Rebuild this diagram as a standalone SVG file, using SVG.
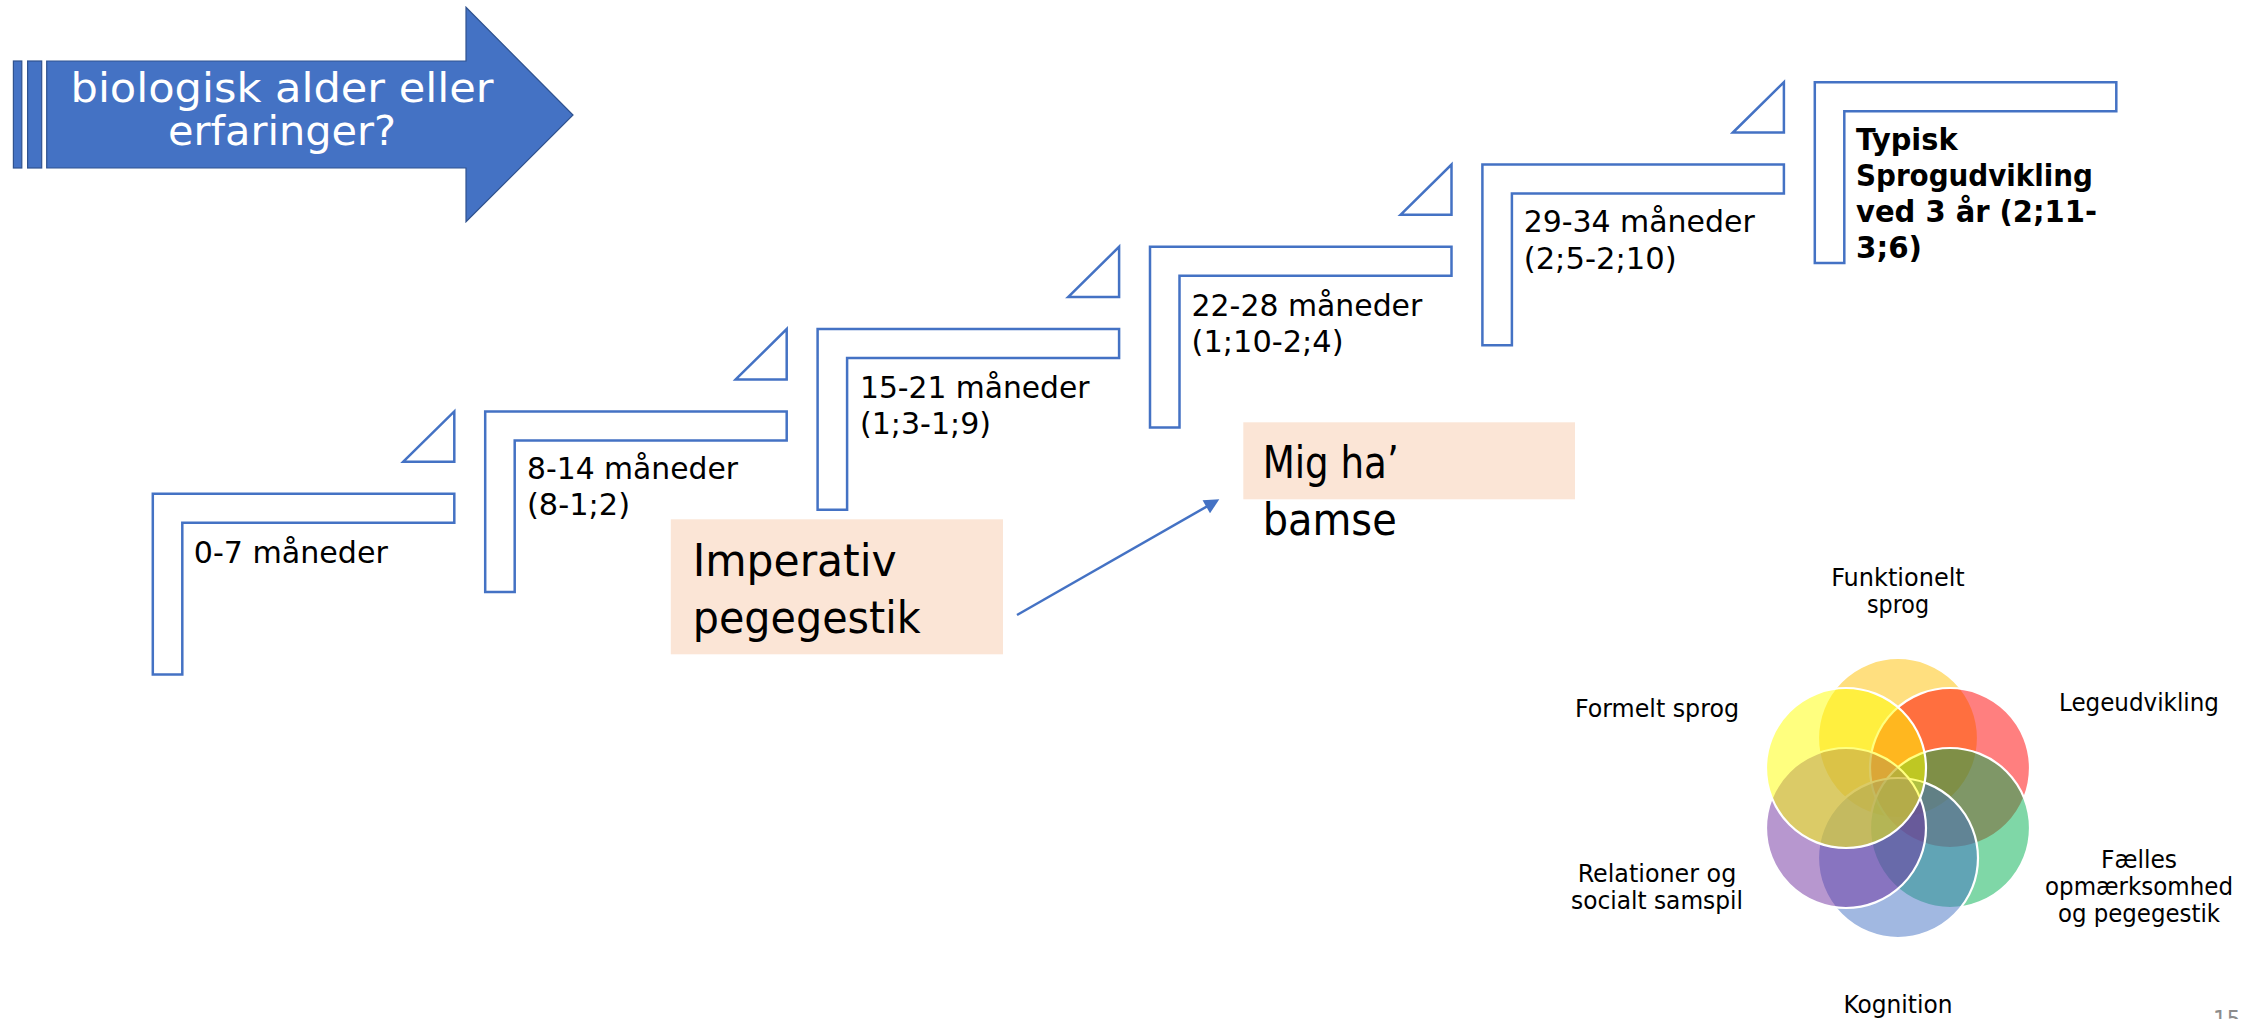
<svg xmlns="http://www.w3.org/2000/svg" width="2251" height="1019" viewBox="0 0 2251 1019">
<style>
.t{font-family:"DejaVu Sans Condensed","DejaVu Sans",sans-serif;font-stretch:condensed;fill:#000;}
.s{font-size:31px;}
.b{font-weight:bold;}
.big{font-size:45px;}
.v{font-size:24px;text-anchor:middle;}
.step{fill:#fff;stroke:#4472C4;stroke-width:2.5;}
.box{fill:#FBE5D6;}
.vc{stroke:#fff;stroke-width:2.2;fill-opacity:0.5;}
.conn{stroke:#4472C4;stroke-width:2.5;fill:none;}
</style>
<defs>
<path id="stepL" d="M0,0 H301.5 V29 H29.5 V180.7 H0 Z"/>
<path id="tri" d="M250.5,-32 L301.5,-82.3 L301.5,-32 Z"/>
<marker id="ah" viewBox="0 0 10 10" refX="7" refY="5" markerWidth="7" markerHeight="6" orient="auto" markerUnits="strokeWidth">
<path d="M0,0 L10,5 L0,10 Z" fill="#4472C4"/>
</marker>
</defs>
<rect width="2251" height="1019" fill="#fff"/>

<g id="title-arrow">
<rect x="13.4" y="61" width="8.4" height="107" fill="#4472C4" stroke="#2F528F" stroke-width="1.2"/>
<rect x="27.6" y="61" width="14.1" height="107" fill="#4472C4" stroke="#2F528F" stroke-width="1.2"/>
<polygon points="46.7,61 466,61 466,7.3 573,115 466,221.7 466,168 46.7,168" fill="#4472C4" stroke="#2F528F" stroke-width="1.2"/>
<text class="t" x="282" y="101.7" font-size="40" text-anchor="middle" style="fill:#fff" textLength="423" lengthAdjust="spacingAndGlyphs">biologisk alder eller</text>
<text class="t" x="282" y="145" font-size="40" text-anchor="middle" style="fill:#fff" textLength="228" lengthAdjust="spacingAndGlyphs">erfaringer?</text>
</g>

<g id="step1">
<use href="#stepL" class="step" transform="translate(152.8,493.7)"/>
<text class="t s" x="193.8" y="562.7" textLength="194" lengthAdjust="spacingAndGlyphs">0-7 måneder</text>
</g>
<g id="tri1"><use href="#tri" class="step" transform="translate(152.8,493.7)"/></g>

<g id="step2">
<use href="#stepL" class="step" transform="translate(485.2,411.4)"/>
<text class="t s" x="527" y="479" textLength="211" lengthAdjust="spacingAndGlyphs">8-14 måneder</text>
<text class="t s" x="527" y="515" textLength="103" lengthAdjust="spacingAndGlyphs">(8-1;2)</text>
</g>
<g id="tri2"><use href="#tri" class="step" transform="translate(485.2,411.4)"/></g>

<g id="step3">
<use href="#stepL" class="step" transform="translate(817.6,329.1)"/>
<text class="t s" x="860" y="397.7" textLength="229.5" lengthAdjust="spacingAndGlyphs">15-21 måneder</text>
<text class="t s" x="860" y="433.5" textLength="131" lengthAdjust="spacingAndGlyphs">(1;3-1;9)</text>
</g>
<g id="tri3"><use href="#tri" class="step" transform="translate(817.6,329.1)"/></g>

<g id="step4">
<use href="#stepL" class="step" transform="translate(1150,246.8)"/>
<text class="t s" x="1191.6" y="315.7" textLength="230.7" lengthAdjust="spacingAndGlyphs">22-28 måneder</text>
<text class="t s" x="1191.6" y="351.7" textLength="152" lengthAdjust="spacingAndGlyphs">(1;10-2;4)</text>
</g>
<g id="tri4"><use href="#tri" class="step" transform="translate(1150,246.8)"/></g>

<g id="step5">
<use href="#stepL" class="step" transform="translate(1482.4,164.5)"/>
<text class="t s" x="1523.7" y="232.3" textLength="231" lengthAdjust="spacingAndGlyphs">29-34 måneder</text>
<text class="t s" x="1523.7" y="268.5" textLength="153" lengthAdjust="spacingAndGlyphs">(2;5-2;10)</text>
</g>
<g id="tri5"><use href="#tri" class="step" transform="translate(1482.4,164.5)"/></g>

<g id="step6">
<use href="#stepL" class="step" transform="translate(1814.8,82.2)"/>
<text class="t s b" x="1856" y="150" textLength="101.6" lengthAdjust="spacingAndGlyphs">Typisk</text>
<text class="t s b" x="1856" y="186" textLength="237" lengthAdjust="spacingAndGlyphs">Sprogudvikling</text>
<text class="t s b" x="1856" y="222.3" textLength="241" lengthAdjust="spacingAndGlyphs">ved 3 år (2;11-</text>
<text class="t s b" x="1856" y="258.3" textLength="66" lengthAdjust="spacingAndGlyphs">3;6)</text>
</g>

<g id="imperativ">
<rect class="box" x="670.8" y="519.3" width="332.2" height="135"/>
<text class="t big" x="692.7" y="576" textLength="204" lengthAdjust="spacingAndGlyphs">Imperativ</text>
<text class="t big" x="692.7" y="633.3" textLength="228" lengthAdjust="spacingAndGlyphs">pegegestik</text>
</g>

<g id="mig-ha">
<rect class="box" x="1243.3" y="422.3" width="331.7" height="77"/>
<text class="t big" x="1262.7" y="478.3" textLength="136" lengthAdjust="spacingAndGlyphs">Mig ha’</text>
<text class="t big" x="1262.7" y="535" textLength="134" lengthAdjust="spacingAndGlyphs">bamse</text>
</g>

<g id="connectors">
<line class="conn" x1="1017" y1="615" x2="1215.4" y2="501.6" marker-end="url(#ah)"/>
</g>

<g id="venn">
<circle class="vc" cx="1898" cy="738" r="80" fill="#FFC000"/>
<circle class="vc" cx="1950" cy="768" r="80" fill="#FF0000"/>
<circle class="vc" cx="1950" cy="828" r="80" fill="#00B050"/>
<circle class="vc" cx="1898" cy="858" r="80" fill="#4472C4"/>
<circle class="vc" cx="1846" cy="828" r="80" fill="#7030A0"/>
<circle class="vc" cx="1846" cy="768" r="80" fill="#FFFF00"/>
</g>

<g id="venn-labels">
<text class="t v" x="1898" y="586" textLength="133.5" lengthAdjust="spacingAndGlyphs">Funktionelt</text>
<text class="t v" x="1898" y="612.7" textLength="62" lengthAdjust="spacingAndGlyphs">sprog</text>
<text class="t v" x="1657" y="716.7" textLength="164" lengthAdjust="spacingAndGlyphs">Formelt sprog</text>
<text class="t v" x="2139" y="710.7" textLength="160" lengthAdjust="spacingAndGlyphs">Legeudvikling</text>
<text class="t v" x="2139" y="868.3" textLength="76" lengthAdjust="spacingAndGlyphs">Fælles</text>
<text class="t v" x="2139" y="895" textLength="188" lengthAdjust="spacingAndGlyphs">opmærksomhed</text>
<text class="t v" x="2139" y="922" textLength="162" lengthAdjust="spacingAndGlyphs">og pegegestik</text>
<text class="t v" x="1657" y="881.7" textLength="158.5" lengthAdjust="spacingAndGlyphs">Relationer og</text>
<text class="t v" x="1657" y="909" textLength="172" lengthAdjust="spacingAndGlyphs">socialt samspil</text>
<text class="t v" x="1898" y="1013" textLength="109" lengthAdjust="spacingAndGlyphs">Kognition</text>
</g>

<g id="page-number">
<text class="t" x="2213" y="1028" font-size="24" style="fill:#8C8C8C">15</text>
</g>
</svg>
